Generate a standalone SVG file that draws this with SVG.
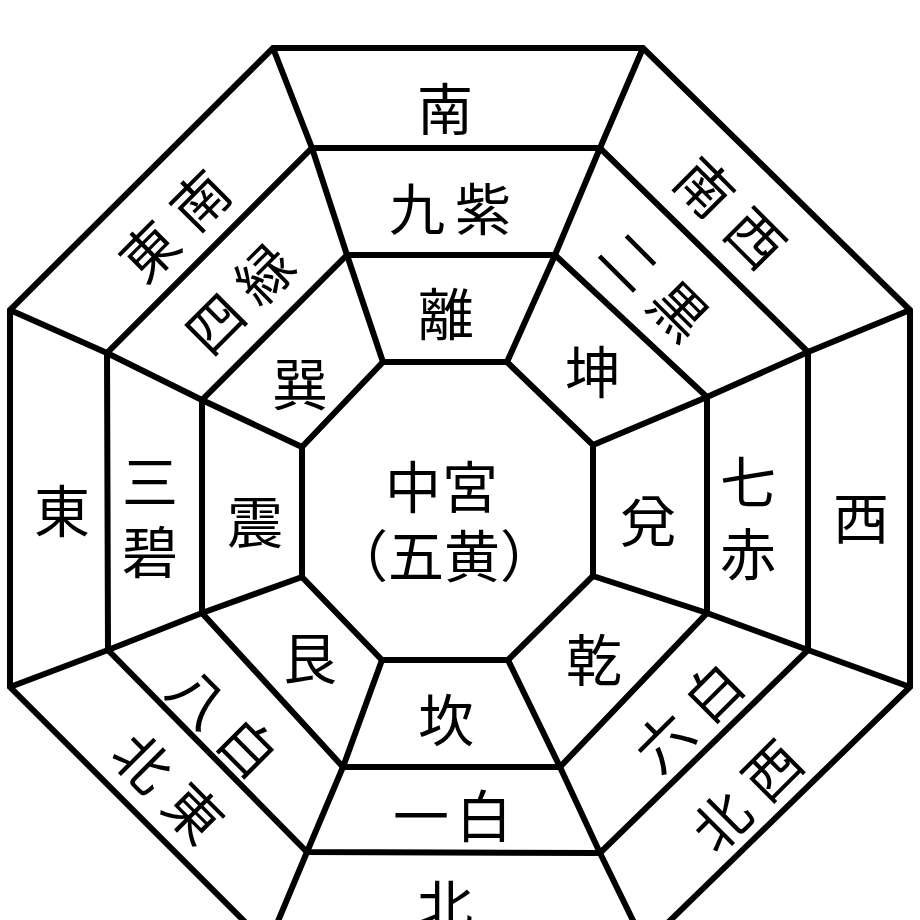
<svg xmlns="http://www.w3.org/2000/svg" width="920" height="920" viewBox="0 0 920 920">
<style>
.ring{fill:none;stroke:#000;stroke-width:6;stroke-linejoin:miter}
.rad{fill:none;stroke:#000;stroke-width:6}
text{font-family:"Noto Sans CJK JP","Noto Sans CJK SC",sans-serif;font-size:56px;fill:#000;text-anchor:middle;dominant-baseline:central}
</style>
<rect width="920" height="920" fill="#fff"/>
<g id="connectors">
<polygon class="ring" points="273,48 643,48 910,310 910,687 645,945 268,945 10,687 10,310"/>
<polygon class="ring" points="312,148 600,148 808,352 808,650 600,853 307,852 108,650 107,353"/>
<polygon class="ring" points="347,255 555,255 707,397 707,613 560,767 343,767 202,613 202,400"/>
<polyline class="rad" points="273,48 312,148 347,255 383,362"/>
<polyline class="rad" points="643,48 600,148 555,255 507,362"/>
<polyline class="rad" points="910,310 808,352 707,397 593,445"/>
<polyline class="rad" points="910,687 808,650 707,613 593,576"/>
<polyline class="rad" points="645,945 600,853 560,767 508,660"/>
<polyline class="rad" points="268,945 307,852 343,767 382,660"/>
<polyline class="rad" points="10,687 108,650 202,613 302,577"/>
<polyline class="rad" points="10,310 107,353 202,400 302,447"/>
</g>
<g id="center">
<polygon class="ring" points="383,362 507,362 593,445 593,576 508,660 382,660 302,577 302,447"/>
<text x="444" y="483"><tspan x="413">中</tspan><tspan x="470">宮</tspan></text>
<text x="444" y="552">（五黄）</text>
</g>
<g id="south">
<text x="445" y="105">南</text>
<text y="205"><tspan x="417">九</tspan><tspan x="483">紫</tspan></text>
<text x="446" y="310">離</text>
</g>
<g id="east">
<text x="62" y="507">東</text>
<text x="150"><tspan x="150" y="478">三</tspan><tspan x="150" y="548">碧</tspan></text>
<text x="255" y="518">震</text>
</g>
<g id="west">
<text x="861" y="514">西</text>
<text x="748"><tspan x="748" y="478">七</tspan><tspan x="748" y="550">赤</tspan></text>
<text x="648" y="517">兌</text>
</g>
<g id="north">
<text x="446" y="716">坎</text>
<text y="812"><tspan x="421">一</tspan><tspan x="484">白</tspan></text>
<text x="445" y="902">北</text>
</g>
<g id="southeast">
<text transform="translate(172,223) rotate(-45)"><tspan x="-36" y="0">東</tspan><tspan x="36" y="0">南</tspan></text>
<text transform="translate(237,296) rotate(-45)"><tspan x="-35" y="0">四</tspan><tspan x="35" y="0">緑</tspan></text>
<text x="300" y="380">巽</text>
</g>
<g id="southwest">
<text transform="translate(733,210) rotate(45)"><tspan x="-36" y="0">南</tspan><tspan x="36" y="0">西</tspan></text>
<text transform="translate(657,283) rotate(45)"><tspan x="-35" y="0">二</tspan><tspan x="35" y="0">黒</tspan></text>
<text x="593" y="368">坤</text>
</g>
<g id="northeast">
<text transform="translate(171,785) rotate(45)"><tspan x="-36" y="0">北</tspan><tspan x="36" y="0">東</tspan></text>
<text transform="translate(226,720) rotate(45)"><tspan x="-35" y="0">八</tspan><tspan x="35" y="0">白</tspan></text>
<text x="310" y="654">艮</text>
</g>
<g id="northwest">
<text transform="translate(744,793) rotate(-45)"><tspan x="-36" y="0">北</tspan><tspan x="36" y="0">西</tspan></text>
<text transform="translate(686,714) rotate(-45)"><tspan x="-35" y="0">六</tspan><tspan x="35" y="0">白</tspan></text>
<text x="594" y="656">乾</text>
</g>
</svg>
